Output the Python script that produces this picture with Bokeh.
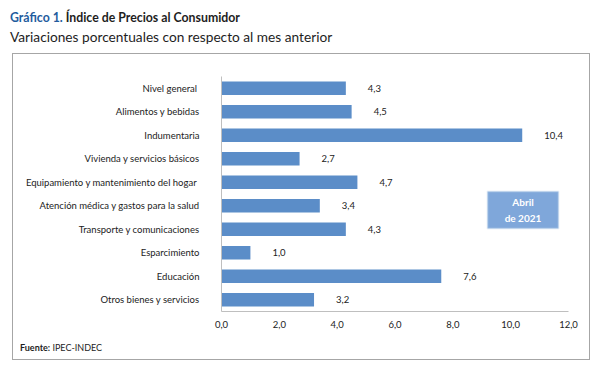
from bokeh.plotting import figure
from bokeh.models import (FactorRange, Range1d, FixedTicker, CustomJSTickFormatter,
                          Label, BoxAnnotation, ColumnDataSource, Div, Spacer)
from bokeh.layouts import column, row
from bokeh.core.properties import value
from bokeh.embed import file_html
from bokeh.resources import INLINE

categories = [
    "Nivel  general",
    "Alimentos y bebidas",
    "Indumentaria",
    "Vivienda y servicios básicos",
    "Equipamiento y  mantenimiento del hogar",
    "Atención médica y gastos para la salud",
    "Transporte y comunicaciones",
    "Esparcimiento",
    "Educación",
    "Otros bienes y servicios",
]
values = [4.3, 4.5, 10.4, 2.7, 4.7, 3.4, 4.3, 1.0, 7.6, 3.2]
x_ticks = [0, 2, 4, 6, 8, 10, 12]

title_a = "Gráfico 1."
title_b = "Índice de Precios al Consumidor"
subtitle = "Variaciones porcentuales con respecto al mes anterior"
source_bold = "Fuente:"
source_text = "IPEC-INDEC"
badge = "Abril\nde 2021"

FONT = "Lato"
W, H = 603, 375
# box (outer border) in page pixels
BX0, BY0, BX1, BY1 = 12, 53, 592, 362
# inner content of the box
CX0, CY0 = BX0 + 1, BY0 + 1
PW, PH = (BX1 - 1) - CX0, 280
FOOT_H = (BY1 - 1) - (CY0 + PH)
# plot frame in page pixels
L, R, T, B = 221, 570, 76, 311

p = figure(width=PW, height=PH, output_backend="svg", toolbar_location=None,
           y_range=FactorRange(*list(reversed(categories)), range_padding=0),
           x_range=Range1d(0, 12),
           min_border_left=L - CX0, min_border_right=(CX0 + PW) - R,
           min_border_top=T - CY0, min_border_bottom=(CY0 + PH) - B,
           margin=0)
p.outline_line_color = None
p.xgrid.grid_line_color = None
p.ygrid.grid_line_color = None
p.background_fill_color = "white"
p.border_fill_color = "white"

labels = [f"{v:.1f}".replace(".", ",") for v in values]
src = ColumnDataSource(dict(cat=categories, val=values, lab=labels))
p.hbar(y="cat", right="val", left=0, height=0.58, source=src,
       fill_color="#5B8DC8", line_color=None)
p.text(x="val", y="cat", text="lab", source=src, x_offset=22,
       text_align="left", text_baseline="middle", text_font=value(FONT),
       text_font_size="9.5px", text_color="#222222")

p.xaxis.ticker = FixedTicker(ticks=x_ticks)
p.xaxis.formatter = CustomJSTickFormatter(code="return tick.toFixed(1).replace('.', ',');")
for ax in (p.xaxis[0], p.yaxis[0]):
    ax.axis_line_color = "#BFBFBF"
    ax.major_tick_line_color = None
    ax.minor_tick_line_color = None
    ax.major_tick_out = 0
    ax.major_tick_in = 0
    ax.minor_tick_out = 0
    ax.major_label_text_font = FONT
    ax.major_label_text_font_size = "9.5px"
    ax.major_label_text_color = "#222222"
p.xaxis.major_label_standoff = 9
p.yaxis.major_label_standoff = 22


def sx(cx):
    return cx - L


def sy(cy):
    return B - cy


p.add_layout(BoxAnnotation(left=sx(487), right=sx(558), top=sy(191), bottom=sy(228),
                           left_units="screen", right_units="screen",
                           top_units="screen", bottom_units="screen",
                           fill_color="#7FA7DA", fill_alpha=1, line_color="#C5D6EC",
                           line_width=2))
p.add_layout(Label(x=sx(522.5), y=sy(209.5), x_units="screen", y_units="screen", text=badge,
                   text_font=FONT, text_font_style="bold", text_font_size="10px",
                   text_color="white", text_align="center", text_baseline="middle",
                   text_line_height=1.3))

title_html = (
    f'<div style="position:relative;width:{W}px;height:{BY0}px;font-family:{FONT};'
    f'color:#1E1E1E;">'
    f'<div style="position:absolute;left:10px;top:9px;font-size:12.3px;font-weight:bold;'
    f'line-height:18px;white-space:nowrap;">'
    f'<span style="color:#1F5C9E;">{title_a}</span> {title_b}</div>'
    f'<div style="position:absolute;left:10px;top:28px;font-size:13.7px;line-height:18px;'
    f'white-space:nowrap;">{subtitle}</div></div>'
)
title_div = Div(text=title_html, width=W, height=BY0, margin=0)

foot_html = (
    f'<div style="position:relative;width:{PW}px;height:{FOOT_H}px;font-family:{FONT};'
    f'font-size:9px;color:#1E1E1E;">'
    f'<div style="position:absolute;left:{20 - CX0}px;top:{348 - (CY0 + PH) - 6}px;'
    f'line-height:12px;white-space:nowrap;"><b>{source_bold}</b> {source_text}</div></div>'
)
foot_div = Div(text=foot_html, width=PW, height=FOOT_H, margin=0)

box = column(p, foot_div, width=PW, height=PH + FOOT_H, spacing=0, margin=0,
             styles={"border": "1px solid #A6A6A6", "background-color": "white"})
mid = row(Spacer(width=BX0, height=PH + FOOT_H + 2, margin=0), box, spacing=0, margin=0)
layout = column(title_div, mid, width=W, height=H, spacing=0, margin=0,
                styles={"background-color": "white"})

open("out.html", "w").write(file_html(layout, INLINE))
